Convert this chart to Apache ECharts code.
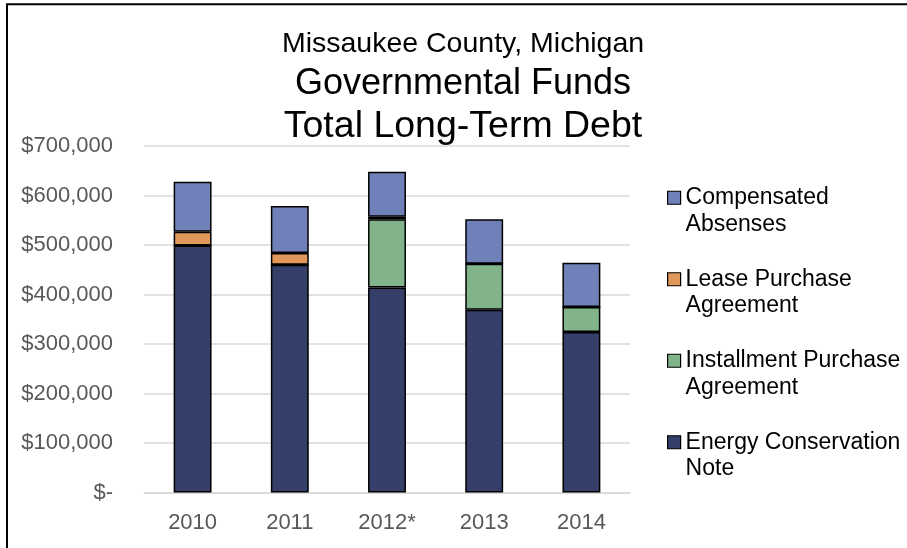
<!DOCTYPE html>
<html>
<head>
<meta charset="utf-8">
<script src="https://cdn.jsdelivr.net/npm/echarts@6/dist/echarts.min.js"></script>
<style>
  html, body { margin: 0; padding: 0; background: #fff; }
  #chart { width: 907px; height: 548px; }
</style>
</head>
<body>
<div id="chart"></div>
<script>
// data
const categories = ['2010', '2011', '2012*', '2013', '2014']
const energyNote = [499000, 460000, 414000, 369000, 324000]
const installment = [0, 0, 138000, 93000, 51000]
const lease = [28000, 24000, 5000, 0, 0]
const compensated = [101000, 95000, 91000, 90000, 89000]

const names = {
  comp: 'Compensated\nAbsenses',
  lease: 'Lease Purchase\nAgreement',
  inst: 'Installment Purchase\nAgreement',
  energy: 'Energy Conservation\nNote'
}
const font = 'Liberation Sans, Arial, sans-serif'

function bar(name, data, color) {
  return {
    name: name,
    type: 'bar',
    stack: 'debt',
    barWidth: '39%',
    data: data,
    itemStyle: { color: color, borderColor: '#000', borderWidth: 1.5 }
  }
}

const chart = echarts.init(document.getElementById('chart'))
chart.setOption({
  backgroundColor: '#fff',
  animation: false,
  title: [
    { text: 'Missaukee County, Michigan', left: 458, top: 25, textAlign: 'center',
      textStyle: { fontFamily: font, fontSize: 28.5, fontWeight: 'normal', color: '#000' } },
    { text: 'Governmental Funds', left: 458, top: 61, textAlign: 'center',
      textStyle: { fontFamily: font, fontSize: 36, fontWeight: 'normal', color: '#000' } },
    { text: 'Total Long-Term Debt', left: 458, top: 103, textAlign: 'center',
      textStyle: { fontFamily: font, fontSize: 37.5, fontWeight: 'normal', color: '#000' } }
  ],
  legend: {
    orient: 'vertical',
    left: 662,
    top: 153,
    itemWidth: 13,
    itemHeight: 13,
    itemGap: 2,
    selectedMode: false,
    icon: 'rect',
    itemStyle: { borderColor: '#000', borderWidth: 1.2 },
    // leading blank line keeps the icon level with the first line of text
    formatter: function (n) { return '\n' + n },
    textStyle: { fontFamily: font, fontSize: 23, color: '#000', lineHeight: 26.5 },
    data: [names.comp, names.lease, names.inst, names.energy]
  },
  grid: { left: 144, right: 277, top: 146, bottom: 55.5 },
  xAxis: {
    type: 'category',
    data: categories,
    axisTick: { show: false },
    axisLine: { lineStyle: { color: '#d9d9d9', width: 1.5 } },
    axisLabel: { fontFamily: font, fontSize: 22, color: '#595959', margin: 19 }
  },
  yAxis: {
    type: 'value',
    min: 0,
    max: 700000,
    interval: 100000,
    axisLine: { show: false },
    axisTick: { show: false },
    splitLine: { lineStyle: { color: '#d9d9d9', width: 1.5 } },
    axisLabel: {
      fontFamily: font, fontSize: 22, color: '#595959', margin: 31,
      formatter: function (v) { return v === 0 ? '$-' : '$' + v.toLocaleString('en-US') }
    }
  },
  series: [
    bar(names.energy, energyNote, '#353f69'),
    bar(names.inst, installment, '#81b48b'),
    bar(names.lease, lease, '#e0975a'),
    bar(names.comp, compensated, '#7080b8')
  ],
  graphic: [
    { type: 'rect', silent: true, z: 100,
      shape: { x: 7, y: 4.3, width: 1000, height: 700 },
      style: { fill: 'none', stroke: '#000', lineWidth: 2 } }
  ]
})
</script>
</body>
</html>
